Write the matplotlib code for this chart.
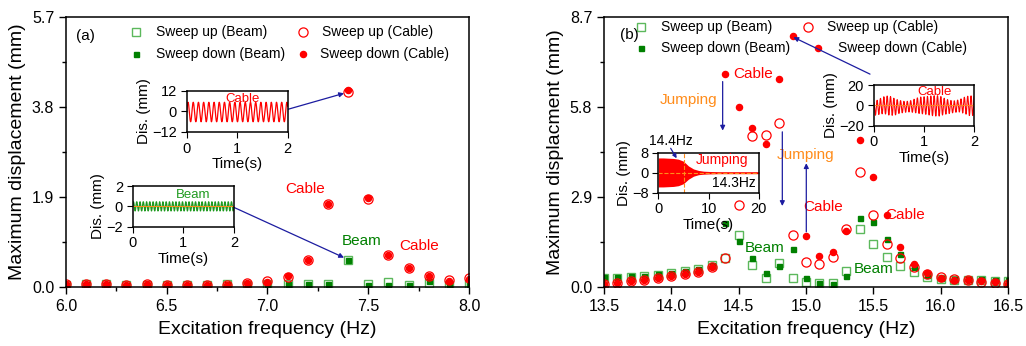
import numpy as np
import matplotlib
matplotlib.use("Agg")
import matplotlib.pyplot as plt
from matplotlib.ticker import MultipleLocator

plt.rcParams['font.family'] = ['Liberation Sans', 'DejaVu Sans']

RED = '#ff0000'
GREEN = '#008000'
LGREEN = '#5cb85c'
ORANGE = '#ff8c1a'
NAVY = '#1c1ca0'

# ---- panel (a) data ----
freq_a = [6.0, 6.1, 6.2, 6.3, 6.4, 6.5, 6.6, 6.7, 6.8, 6.9, 7.0,
          7.1, 7.2, 7.3, 7.4, 7.5, 7.6, 7.7, 7.8, 7.9, 8.0]
beam_up_a = [0.04, 0.07, 0.07, 0.04, 0.05, 0.04, 0.04, 0.04, 0.07, 0.05, 0.06,
             0.07, 0.07, 0.07, 0.58, 0.06, 0.10, 0.05, 0.08, 0.05, 0.06]
beam_down_a = [0.04, 0.06, 0.06, 0.04, 0.05, 0.04, 0.04, 0.04, 0.06, 0.05, 0.06,
               0.07, 0.06, 0.06, 0.58, 0.04, 0.05, 0.05, 0.12, 0.05, 0.06]
cable_up_a = [0.06, 0.06, 0.07, 0.05, 0.07, 0.05, 0.05, 0.05, 0.05, 0.08, 0.13,
              0.21, 0.56, 1.76, 4.12, 1.86, 0.67, 0.40, 0.23, 0.15, 0.18]
cable_down_a = [0.06, 0.06, 0.07, 0.05, 0.07, 0.05, 0.05, 0.05, 0.05, 0.09, 0.10,
                0.23, 0.56, 1.76, 4.15, 1.88, 0.67, 0.40, 0.23, 0.12, 0.16]

# ---- panel (b) data ----
freq_b = [13.5, 13.6, 13.7, 13.8, 13.9, 14.0, 14.1, 14.2, 14.3, 14.4, 14.5,
          14.6, 14.7, 14.8, 14.9, 15.0, 15.1, 15.2, 15.3, 15.4, 15.5,
          15.6, 15.7, 15.8, 15.9, 16.0, 16.1, 16.2, 16.3, 16.4, 16.5]
beam_up_b = [0.30, 0.30, 0.33, 0.36, 0.40, 0.44, 0.50, 0.57, 0.70, 0.92, 1.67,
             0.72, 0.29, 0.78, 0.30, 0.17, 0.14, 0.12, 0.52, 1.86, 1.37,
             0.97, 0.68, 0.48, 0.32, 0.27, 0.24, 0.22, 0.22, 0.19, 0.19]
beam_down_b = [0.32, 0.32, 0.34, 0.37, 0.41, 0.45, 0.51, 0.58, 0.72, 2.05, 1.48,
               0.92, 0.46, 0.67, 1.21, 0.30, 0.13, 0.09, 0.34, 2.21, 2.08,
               1.56, 1.06, 0.65, 0.38, 0.30, 0.27, 0.27, 0.27, 0.24, 0.24]
cable_up_b = [0.11, 0.14, 0.18, 0.24, 0.29, 0.36, 0.43, 0.48, 0.63, 0.95, 2.64,
              4.85, 4.90, 5.30, 1.69, 0.79, 0.73, 0.97, 1.87, 3.71, 2.32,
              1.38, 0.94, 0.65, 0.41, 0.32, 0.27, 0.22, 0.16, 0.13, 0.09]
cable_down_b = [0.11, 0.14, 0.18, 0.24, 0.29, 0.36, 0.43, 0.48, 0.63, 6.87, 5.79,
                5.11, 4.61, 6.71, 8.08, 1.64, 1.01, 1.13, 1.80, 4.74, 3.55,
                2.32, 1.28, 0.75, 0.45, 0.30, 0.24, 0.22, 0.18, 0.16, 0.11]

# ---- inset signals (read-off amplitude / frequency / envelopes) ----
cable_a_amp, cable_a_freq, cable_a_mean = 5.7, 9.7, -0.3
beam_a_amp, beam_a_freq = 0.45, 15.5
t_env_b = [0, 0.1, 0.2, 0.3, 0.4, 0.5, 0.6, 0.7, 0.8, 0.9, 1.0,
           1.1, 1.2, 1.3, 1.4, 1.5, 1.6, 1.7, 1.8, 1.9, 2.0]
cable_b_upper = [3, 6, 8.5, 9.5, 7, 5, 4, 4, 6, 8, 8.5,
                 9, 9.5, 9.5, 7, 5, 4.5, 5.5, 8, 9.5, 9]
cable_b_lower = [-10, -9, -8, -9.5, -10, -8, -7, -6.5, -7, -8, -8.5,
                 -9.5, -10.5, -10.5, -9, -8, -7, -6.5, -8, -10, -10]
cable_b_freq = 15.0
t_jump = [0, 1, 2, 3, 4, 5, 6, 7, 8, 9, 10, 12, 15, 20]
jump_upper = [5.9, 5.9, 5.8, 5.7, 5.4, 4.6, 2.7, 1.5, 0.9, 0.6, 0.5, 0.4, 0.4, 0.4]
jump_lower = [-5.7, -5.7, -5.6, -5.5, -5.2, -4.4, -2.6, -1.4, -0.8, -0.6, -0.5, -0.4, -0.4, -0.4]
jump_marker_t = 5.2

fig = plt.figure(figsize=(10.26, 3.46), dpi=100)
ax1 = fig.add_axes([0.0643, 0.1705, 0.3928, 0.7803])
ax2 = fig.add_axes([0.5887, 0.1705, 0.3938, 0.7803])

SQ_OPEN = dict(marker='s', ms=5.8, mfc='none', mec=LGREEN, mew=1.0)
SQ_FULL = dict(marker='s', ms=3.6, color=GREEN)
CI_OPEN = dict(marker='o', ms=6.6, mfc='none', mec=RED, mew=0.9)
CI_FULL = dict(marker='o', ms=4.4, color=RED)


def scatter4(ax, f, bu, bd, cu, cd):
    ax.plot(f, bu, ls='none', **SQ_OPEN)
    ax.plot(f, bd, ls='none', **SQ_FULL)
    ax.plot(f, cu, ls='none', **CI_OPEN)
    ax.plot(f, cd, ls='none', **CI_FULL)


def style_main(ax):
    for s in ax.spines.values():
        s.set_linewidth(1.1)
    ax.tick_params(which='both', direction='out', top=False, right=False,
                   labelsize=11.5, width=1.0)
    ax.tick_params(which='major', length=5)
    ax.tick_params(which='minor', length=3)
    ax.set_xlabel('Excitation frequency (Hz)', fontsize=14, labelpad=5)


def leg(ax, xm, xt, y, text, mk):
    ax.plot([xm], [y], transform=ax.transAxes, clip_on=False, linestyle='none', **mk)
    ax.text(xt, y, text, transform=ax.transAxes, va='center', ha='left', fontsize=10)


def arrow(ax, start, tip, **kw):
    ax.annotate('', xy=tip, xytext=start,
                arrowprops=dict(arrowstyle='-|>', color=NAVY, lw=0.9,
                                mutation_scale=7, shrinkA=0, shrinkB=0), **kw)


def style_inset(ax, xticks, yticks):
    for s in ax.spines.values():
        s.set_linewidth(1.1)
    ax.set_xticks(xticks)
    ax.set_yticks(yticks)
    ax.tick_params(direction='out', length=4, labelsize=10.5, pad=3, top=False, right=False)
    ax.set_xlabel('Time(s)', fontsize=11, labelpad=1)
    ax.set_ylabel('Dis. (mm)', fontsize=11, labelpad=1)


# ---------------- panel (a) ----------------
scatter4(ax1, freq_a, beam_up_a, beam_down_a, cable_up_a, cable_down_a)
ax1.set_xlim(6.0, 8.0)
ax1.set_ylim(0, 5.7)
ax1.set_xticks([6.0, 6.5, 7.0, 7.5, 8.0])
ax1.xaxis.set_minor_locator(MultipleLocator(0.25))
ax1.set_yticks([0.0, 1.9, 3.8, 5.7])
ax1.yaxis.set_minor_locator(MultipleLocator(0.95))
ax1.xaxis.set_major_formatter(matplotlib.ticker.FormatStrFormatter('%.1f'))
ax1.yaxis.set_major_formatter(matplotlib.ticker.FormatStrFormatter('%.1f'))
style_main(ax1)
ax1.set_ylabel('Maximum displacement (mm)', fontsize=14, labelpad=4)
ax1.text(0.025, 0.93, '(a)', transform=ax1.transAxes, fontsize=11, va='center')

leg(ax1, 0.174, 0.223, 0.943, 'Sweep up (Beam)', SQ_OPEN)
leg(ax1, 0.174, 0.223, 0.862, 'Sweep down (Beam)', SQ_FULL)
leg(ax1, 0.589, 0.635, 0.943, 'Sweep up (Cable)', CI_OPEN)
leg(ax1, 0.589, 0.631, 0.862, 'Sweep down (Cable)', CI_FULL)

ax1.text(7.087, 2.06, 'Cable', color=RED, fontsize=11, va='center')
ax1.text(7.368, 0.97, 'Beam', color=GREEN, fontsize=11, va='center')
ax1.text(7.653, 0.87, 'Cable', color=RED, fontsize=11, va='center')
arrow(ax1, (7.100, 3.75), (7.38, 4.09))
arrow(ax1, (6.834, 1.68), (7.38, 0.62))

# inset: cable (a)
ia1 = fig.add_axes([0.182, 0.6185, 0.0984, 0.1185])
t = np.linspace(0, 2, 2000)
ia1.plot(t, cable_a_mean + cable_a_amp * np.sin(2 * np.pi * cable_a_freq * t), color=RED, lw=0.9)
ia1.set_xlim(0, 2)
ia1.set_ylim(-12, 12)
style_inset(ia1, [0, 1, 2], [-12, 0, 12])
ia1.text(0.77, 7.1, 'Cable', color=RED, fontsize=9.5, va='center')

# inset: beam (a)
ia2 = fig.add_axes([0.1293, 0.3448, 0.0987, 0.1176])
ia2.plot(t, beam_a_amp * np.sin(2 * np.pi * beam_a_freq * t), color='#1f9a1f', lw=0.9)
ia2.axhline(0, color=ORANGE, lw=0.7)
ia2.set_xlim(0, 2)
ia2.set_ylim(-2, 2)
style_inset(ia2, [0, 1, 2], [-2, 0, 2])
ia2.text(0.855, 1.12, 'Beam', color='#1f9a1f', fontsize=9.5, va='center')

# ---------------- panel (b) ----------------
scatter4(ax2, freq_b, beam_up_b, beam_down_b, cable_up_b, cable_down_b)
ax2.set_xlim(13.5, 16.5)
ax2.set_ylim(0, 8.7)
ax2.set_xticks([13.5, 14.0, 14.5, 15.0, 15.5, 16.0, 16.5])
ax2.set_yticks([0.0, 2.9, 5.8, 8.7])
ax2.yaxis.set_minor_locator(MultipleLocator(1.45))
ax2.xaxis.set_major_formatter(matplotlib.ticker.FormatStrFormatter('%.1f'))
ax2.yaxis.set_major_formatter(matplotlib.ticker.FormatStrFormatter('%.1f'))
style_main(ax2)
ax2.set_ylabel('Maximum displacment (mm)', fontsize=14, labelpad=4)
ax2.text(0.04, 0.933, '(b)', transform=ax2.transAxes, fontsize=11, va='center')

leg(ax2, 0.0916, 0.140, 0.962, 'Sweep up (Beam)', SQ_OPEN)
leg(ax2, 0.0916, 0.140, 0.884, 'Sweep down (Beam)', SQ_FULL)
leg(ax2, 0.506, 0.553, 0.962, 'Sweep up (Cable)', CI_OPEN)
leg(ax2, 0.529, 0.578, 0.884, 'Sweep down (Cable)', CI_FULL)

ax2.text(14.458, 6.86, 'Cable', color=RED, fontsize=11, va='center')
ax2.text(13.911, 6.03, 'Jumping', color=ORANGE, fontsize=11, va='center')
ax2.text(14.782, 4.25, 'Jumping', color=ORANGE, fontsize=11, va='center')
ax2.text(14.978, 2.57, 'Cable', color=RED, fontsize=11, va='center')
ax2.text(15.587, 2.32, 'Cable', color=RED, fontsize=11, va='center')
ax2.text(14.547, 1.25, 'Beam', color=GREEN, fontsize=11, va='center')
ax2.text(15.356, 0.57, 'Beam', color=GREEN, fontsize=11, va='center')
arrow(ax2, (15.475, 6.86), (14.906, 8.05))
arrow(ax2, (14.381, 6.62), (14.381, 5.04))
arrow(ax2, (14.824, 5.00), (14.824, 2.61))
arrow(ax2, (15.002, 1.78), (15.002, 3.99))

# inset: jumping (b)
ib1 = fig.add_axes([0.6416, 0.4431, 0.0981, 0.1156])
ib1.fill_between(t_jump, jump_lower, jump_upper, color=RED, lw=0)
ib1.axhline(0, color=ORANGE, lw=0.8, ls='--')
ib1.axvline(jump_marker_t, color=ORANGE, lw=0.8, ls='--')
ib1.set_xlim(0, 20)
ib1.set_ylim(-8, 8)
style_inset(ib1, [0, 10, 20], [-8, 0, 8])
ib1.text(7.43, 5.08, 'Jumping', color=RED, fontsize=10, va='center')
ib1.text(10.7, -4.0, '14.3Hz', color='black', fontsize=10, va='center')
ib1.text(2.46, 12.5, '14.4Hz', color='black', fontsize=10, va='center', ha='center', clip_on=False)
ib1.annotate('', xy=(3.65, 5.76), xytext=(2.46, 9.76),
             arrowprops=dict(arrowstyle='-|>', color=NAVY, lw=0.9, mutation_scale=6,
                             shrinkA=0, shrinkB=0), annotation_clip=False)

# inset: cable (b)
ib2 = fig.add_axes([0.8516, 0.6367, 0.0981, 0.1176])
tb = np.linspace(0, 2, 3000)
up = np.interp(tb, t_env_b, cable_b_upper)
lo = np.interp(tb, t_env_b, cable_b_lower)
ib2.plot(tb, (up + lo) / 2 + (up - lo) / 2 * np.cos(2 * np.pi * cable_b_freq * tb), color=RED, lw=0.8)
ib2.axhline(0, color=ORANGE, lw=0.6)
ib2.set_xlim(0, 2)
ib2.set_ylim(-20, 20)
style_inset(ib2, [0, 1, 2], [-20, 0, 20])
ib2.text(0.867, 13.4, 'Cable', color=RED, fontsize=9.5, va='center')

fig.savefig('out.png', dpi=100)
